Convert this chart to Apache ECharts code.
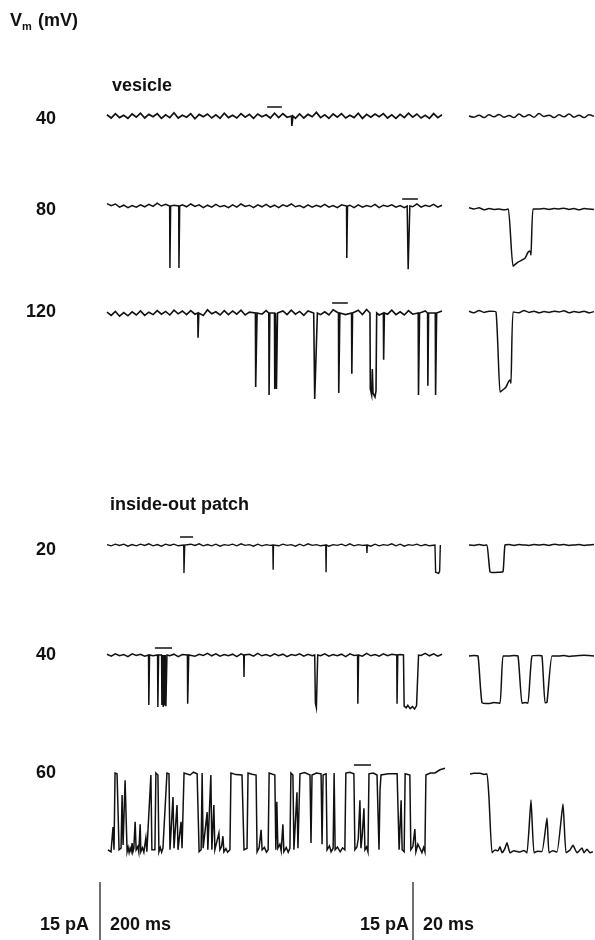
<!DOCTYPE html>
<html><head><meta charset="utf-8">
<script src="https://cdn.jsdelivr.net/npm/echarts/dist/echarts.min.js"></script>
<style>html,body{margin:0;padding:0;background:#fff}#c{width:595px;height:940px}</style>
</head><body><div id="c"></div>
<script>
// ---------- DATA (time in ms, current in pA; downward = inward current) ----------
const rowLabels = ['40', '80', '120', '20', '40', '60'];
const groupTitles = ['vesicle', 'inside-out patch'];
const scaleLabels = ['15 pA', '200 ms', '15 pA', '20 ms'];
const longSpan = 1000;   // ms covered by each long trace
const shortSpan = 100;   // ms covered by each expanded trace
const scaleBarPA = 15;

// baseline noise of the long traces (sampled evenly across the trace)
const noiseV40 = [0.3,-0.5,0.6,-0.4,0.2,-0.6,0.5,-0.3,0.7,-0.5,0.4,-0.2,0.6,-0.6,0.3,-0.4,0.8,-0.5,0.2,-0.3,0.6,-0.7,0.4,-0.2,0.5,-0.5,0.3,-0.6,0.7,-0.4,0.2,-0.5,0.6,-0.3,0.4,-0.6,0.5,-0.2,0.3,-0.5,0.7,-0.4,0.6,-0.3,0.2,-0.6,0.5,-0.5,0.4,-0.2,0.9,-0.4,0.3,-0.6,0.5,-0.3,0.6,-0.5,0.2,-0.4,0.7,-0.6,0.4,-0.3,0.5,-0.2,0.6,-0.5,0.3,-0.6,0.4,-0.4,0.7,-0.3,0.5,-0.5,0.2,-0.6,0.6,-0.4,0.3];
const noiseV80 = [0.6,0.1,0.5,-0.3,0.2,-0.4,0.1,-0.3,0.3,-0.2,0.4,-0.1,0.7,0.0,0.4,-0.3,0.2,-0.4,0.3,-0.2,0.5,-0.1,0.3,-0.4,0.2,-0.3,0.4,-0.2,0.1,-0.4,0.3,-0.3,0.5,-0.1,0.2,-0.4,0.3,-0.2,0.4,-0.3,0.2,-0.4,0.3,-0.1,0.5,-0.2,0.1,-0.4,0.3,-0.3,0.2,-0.2,0.4,-0.3,0.1,-0.4,0.3,-0.1,0.2,-0.4,0.3,-0.3,0.1,-0.2,0.4,-0.4,0.2,-0.1,0.3,-0.3,0.1,-0.4,0.2,-0.2,0.5,-0.3,0.2,-0.1,0.4,-0.3,0.2];
const noiseV120 = [0.2,-0.6,0.4,-0.8,0.1,-0.7,0.3,-0.5,0.5,-0.6,0.2,-0.4,0.6,-0.3,0.4,-0.5,0.7,-0.2,0.5,-0.4,0.6,-0.3,0.4,-0.6,0.8,-0.2,0.3,-0.5,0.6,-0.4,0.5,-0.3,0.7,-0.5,0.2,-0.6,0.4,-0.3,0.6,-0.2,0.3,-0.5,0.5,-0.4,0.7,-0.3,0.4,-0.6,0.5,-0.2,0.6,-0.4,0.3,-0.5,0.8,-0.3,0.5,-0.4,0.6,-0.2,0.7,-0.4,0.9,-0.2,0.6,-0.5,0.4,-0.3,0.7,-0.4,0.3,-0.5,0.6,-0.3,0.4,-0.6,0.5,-0.2,0.6,-0.4,0.5];
const noiseP20 = [0.1,-0.2,0.2,-0.1,0.2,-0.3,0.1,-0.2,0.2,-0.1,0.3,-0.2,0.1,-0.3,0.2,-0.1,0.2,-0.2,0.1,-0.3,0.2,-0.1,0.3,-0.2,0.1,-0.2,0.2,-0.3,0.1,-0.1,0.2,-0.2,0.3,-0.1,0.1,-0.3,0.2,-0.2,0.1,-0.1,0.3,-0.2,0.2,-0.1,0.1,-0.3,0.2,-0.2,0.3,-0.1,0.1,-0.2,0.2,-0.3,0.1,-0.1,0.2,-0.2,0.3,-0.2,0.1,-0.1,0.2,-0.3,0.2,-0.2,0.1,-0.1,0.3,-0.2,0.2,-0.3,0.1,-0.1,0.2,-0.2,0.1,-0.2,0.3,-0.1,0.2];
const noiseP40 = [0.2,-0.3,0.3,-0.2,0.1,-0.4,0.3,-0.1,0.2,-0.3,0.4,-0.2,0.1,-0.3,0.3,-0.2,0.2,-0.4,0.1,-0.2,0.3,-0.3,0.2,-0.1,0.4,-0.2,0.3,-0.3,0.1,-0.2,0.2,-0.4,0.3,-0.1,0.2,-0.3,0.4,-0.2,0.1,-0.3,0.3,-0.2,0.2,-0.4,0.1,-0.1,0.3,-0.3,0.2,-0.2,0.5,-0.2,0.3,-0.3,0.1,-0.2,0.2,-0.4,0.3,-0.1,0.2,-0.3,0.4,-0.2,0.1,-0.3,0.3,-0.2,0.2,-0.4,0.1,-0.2,0.3,-0.3,0.2,-0.1,0.4,-0.2,0.3,-0.3,0.2];

// openings in the long traces: [start ms, end ms, amplitude pA] or explicit vertex lists
const eventsV40 = [[551, 555, -2.5]];
const eventsV80 = [[187, 190, -15.5], [214, 217, -15.5], [715, 718, -13], [[896, 0], [899, -15.8], [904, 0]]];
const eventsV120 = [[271, 274, -6.2], [443, 448, -18.5], [483, 486, -20.5], [500, 503, -19], [505, 509, -19],
  [[617, 0], [620, -21.5], [624, -21.7], [628, 0]], [691, 695, -20], [730, 733, -15.2],
  [[785, 0], [786, -19], [790, -20.5], [792, -14], [794, -20], [800, -21], [803, -19.5], [805, 0]],
  [825, 828, -11.7], [929, 933, -20.5], [957, 960, -18.2], [980, 984, -20.5]];
const eventsP20 = [[229, 232, -7], [495, 497, -6.2], [653, 655, -6.8], [775, 777, -2],
  [[979, 0], [981, -6.8], [990, -7.1], [993, -6.5], [995, 0]]];
const eventsP40 = [[124, 127, -12.5], [151, 154, -13], [163, 166, -12.5], [167, 170, -13], [171, 174, -12.6], [175, 179, -12.8],
  [240, 244, -12.2], [408, 410, -5.5], [[620, 0], [622, -12], [625, -13.2], [629, 0]], [748, 751, -12.2], [865, 868, -12.2],
  [[885, 0], [887, -12.8], [893, -13.2], [898, -12.6], [905, -13.4], [912, -12.9], [918, -13.5], [924, -12.7], [928, -13], [930, 0]]];
// 60 mV patch: mostly open, read as a sequence of [ms, pA] vertices
const traceP60 = [[3,-19.2],[12,-19.7],[18,-13.5],[21,-19.2],[24,0],[30,-0.2],[36,-19.2],[42,-18.8],[45,-5.5],[48,-18],[54,-1.8],[60,-19.7],[63,-18.6],[66,-19.9],[69,-18.8],[72,-19.6],[75,-17.5],[77,-19.8],[80,-18.9],[84,-12.2],[87,-19.2],[92,-18.4],[95,-19.8],[99,-12.8],[101,-19.7],[106,-18.7],[110,-19.8],[116,-16.2],[119,-19.7],[131,-0.5],[134,-19.2],[143,-19.2],[146,0],[152,-0.5],[155,-19.7],[159,-18.6],[163,-19.8],[167,-18.8],[179,0],[185,-0.2],[188,-19.2],[197,-6],[200,-18.8],[209,-8],[212,-19.2],[221,-12.2],[224,-18.8],[230,0],[248,-0.5],[258,0.2],[269,-0.2],[275,-19.7],[281,-19.2],[284,0],[287,-18.8],[299,-9.8],[301,-19.2],[310,-0.5],[313,-19.2],[319,-8],[322,-19.2],[334,-15],[337,-19.2],[342,-18.4],[346,-15.8],[349,-19.7],[355,-18.9],[360,-19.8],[367,-19.2],[370,0],[385,-0.4],[403,-0.5],[409,-19.2],[418,-18.8],[421,0],[433,-0.3],[445,-0.5],[448,-19.7],[454,-18.7],[460,-14.2],[463,-19.2],[470,-18.6],[476,-19.8],[481,-19.2],[484,0],[501,-0.5],[504,-19.2],[507,-7.2],[510,-18.8],[516,-17.8],[520,-19.5],[525,-12.8],[528,-19.7],[535,-18.6],[541,-19.8],[546,-18.8],[549,0],[555,-0.5],[558,-19.2],[567,-4.8],[570,-18.8],[576,-0.2],[590,0.1],[606,-0.5],[609,-17.5],[612,-0.5],[625,0],[639,-0.2],[642,-17.8],[645,-0.5],[654,-0.2],[657,-19.2],[664,-18.2],[669,-19.7],[675,-18.8],[678,0],[681,-19.2],[688,-18.5],[696,-19.7],[703,-18.7],[710,-19.2],[713,0],[725,0.2],[737,-0.2],[740,-19.2],[746,-18.5],[750,-16.5],[755,-6.8],[758,-18.8],[762,-15.5],[767,-8.8],[770,-19.2],[775,-18.5],[779,-19.7],[782,-0.2],[795,0],[806,-0.5],[812,-19.2],[815,-4.2],[818,-0.5],[840,-0.2],[866,-0.2],[872,-19.2],[878,-6.8],[881,-19.2],[887,-19.7],[890,-0.2],[904,-0.5],[907,-19.2],[913,-18.4],[919,-14],[922,-19.7],[928,-17.8],[934,-18.8],[940,-19.9],[945,-18.6],[949,-19.7],[952,-0.5],[965,0],[979,0],[994,0.8],[1009,1.2]];

// bars over the segment shown expanded: [start ms, end ms, level pA]
const barV40 = [478, 522, 2.25];
const barV80 = [881, 928, 1.75];
const barV120 = [672, 719, 2.5];
const barP20 = [218, 257, 2];
const barP40 = [143, 194, 1.75];
const barP60 = [737, 788, 2];

// expanded traces: baseline noise and openings
const sNoiseV40 = [0.0,-0.3,0.2,-0.4,0.3,-0.2,0.4,-0.3,0.1,-0.4,0.5,-0.2,0.3,-0.3,0.6,-0.1,0.2,-0.4,0.3,-0.2,0.5,-0.3,0.2,-0.4,0.3,-0.1];
const sNoiseV80 = [0.3,0.0,0.3,-0.2,0.1,-0.1,0.0,-0.2,0.1,0.0,0.0,-0.1,0.1,-0.1,0.0,0.1,-0.1,0.1,0.0,0.2,-0.1,0.1,-0.2,0.1,0.0,-0.1];
const sNoiseV120 = [0.2,-0.2,0.4,-0.1,0.2,-0.3,0.1,0.0,-0.1,0.3,-0.2,0.4,-0.1,0.2,-0.2,0.1,-0.1,0.2,0.0,0.3,-0.2,0.1,-0.1,0.2,-0.2,0.1];
const sNoiseP20 = [0.0,-0.1,0.1,-0.1,0.0,0.1,-0.1,0.0,0.1,-0.1,0.1,0.0,-0.1,0.1,0.0,0.1,-0.1,0.2,0.0,0.1,-0.1,0.0,0.1,-0.1,0.0,0.1];
const sNoiseP40 = [0.0,0.1,0.0,-0.1,0.1,0.0,0.1,-0.1,0.0,0.1,0.0,-0.1,0.1,0.0,0.1,-0.1,0.0,0.1,0.0,0.1,-0.1,0.0,0.1,0.2,0.1,0.0];
const sEventsV40 = [];
const sEventsV80 = [[[31.5,0],[35.2,-14.3],[39.2,-13.3],[44.8,-12.3],[47.2,-10.8],[48.8,-10.5],[49.6,-11.5],[51.2,0]]];
const sEventsV120 = [[[21.6,0],[24.8,-20],[27,-19.5],[29.5,-18.8],[31.5,-17.5],[32.8,-17],[33.6,-17.8],[35.2,0]]];
const sEventsP20 = [[[14.4,0],[16.8,-6.7],[20,-6.9],[24,-6.8],[27.2,-6.7],[28.8,0]]];
const sEventsP40 = [[[7.2,0],[10.4,-11.7],[16,-11.9],[20,-11.6],[24.8,-11.8],[27.2,0]],
  [[39.2,0],[42.4,-11.8],[45,-11.6],[47.2,-11.8],[50.4,0]],
  [[58.4,0],[60.8,-11.7],[62.4,-11.6],[66.4,0]]];
const sTraceP60 = [[0.8,0],[4,0.2],[8.8,0.2],[12,-0.1],[14.4,0],[16,-6],[18.4,-19.7],[20.8,-19],[23.2,-19.2],[24.8,-18.2],[26.4,-19.7],[28.5,-18.8],[30.4,-17.2],[32.8,-19.7],[36,-19.2],[40.8,-19.5],[44,-19.1],[46.4,-19.7],[49.6,-6.5],[52,-19.7],[55,-19.3],[58.4,-19.4],[62.4,-11],[64,-19.7],[67,-19.2],[70.4,-19.5],[75.2,-7.5],[77.6,-19.7],[80.8,-19],[83.2,-17.8],[86.4,-19.7],[90.4,-18.5],[92,-19.7],[94.4,-18.8],[96.8,-19.7],[99.2,-19.4]];

// ---------- BUILD ----------
function expand(ev) {
  if (Array.isArray(ev[0])) return ev;
  const [a, b, amp] = ev;
  if (b - a <= 2) return [[a, 0], [(a + b) / 2, amp], [b, 0]];
  return [[a, 0], [a + 0.8, amp], [b - 0.8, amp], [b, 0]];
}
function build(noise, span, events) {
  const step = span / (noise.length - 1);
  const ex = events.map(expand);
  const pts = [];
  noise.forEach((v, i) => {
    const t = i * step;
    if (!ex.some(e => t > e[0][0] - step * 0.5 && t < e[e.length - 1][0] + step * 0.5)) pts.push([t, v]);
  });
  ex.forEach(e => e.forEach(p => pts.push(p)));
  pts.sort((a, b) => a[0] - b[0]);
  return pts;
}

const longData = [
  build(noiseV40, longSpan, eventsV40), build(noiseV80, longSpan, eventsV80), build(noiseV120, longSpan, eventsV120),
  build(noiseP20, longSpan, eventsP20), build(noiseP40, longSpan, eventsP40), traceP60];
const shortData = [
  build(sNoiseV40, shortSpan, sEventsV40), build(sNoiseV80, shortSpan, sEventsV80), build(sNoiseV120, shortSpan, sEventsV120),
  build(sNoiseP20, shortSpan, sEventsP20), build(sNoiseP40, shortSpan, sEventsP40), sTraceP60];
const bars = [barV40, barV80, barV120, barP20, barP40, barP60];

// layout (pixels)
const PX_PER_PA = 4, Y_MIN = -24, Y_MAX = 3;
const longBase = [116, 206, 313, 545, 655, 773];
const shortBase = [116, 209, 312, 545, 656, 774];
const labelY = [119, 210, 312, 550, 655, 773];
const LONG_LEFT = 107, PX_PER_MS_LONG = 0.335;
const SHORT_LEFT = 469, PX_PER_MS_SHORT = 1.25;

const grid = [], xAxis = [], yAxis = [], series = [];
const longWidths = [1.7, 1.5, 1.6, 1.4, 1.5, 1.5];
function addGrid(left, top, width, height, xmin, xmax, ymin, ymax) {
  grid.push({ left, top, width, height });
  const i = grid.length - 1;
  xAxis.push({ gridIndex: i, type: 'value', min: xmin, max: xmax, show: false });
  yAxis.push({ gridIndex: i, type: 'value', min: ymin, max: ymax, show: false });
  return i;
}
for (let r = 0; r < 6; r++) {
  const lmax = r === 5 ? 1009 : longSpan;
  const gl = addGrid(LONG_LEFT, longBase[r] - Y_MAX * PX_PER_PA, lmax * PX_PER_MS_LONG, (Y_MAX - Y_MIN) * PX_PER_PA, 0, lmax, Y_MIN, Y_MAX);
  series.push({ type: 'line', xAxisIndex: gl, yAxisIndex: gl, data: longData[r], symbol: 'none', lineStyle: { color: '#111', width: longWidths[r], join: 'miter' }, clip: false, animation: false });
  const b = bars[r];
  series.push({ type: 'line', xAxisIndex: gl, yAxisIndex: gl, data: [[b[0], b[2]], [b[1], b[2]]], symbol: 'none', lineStyle: { color: '#111', width: 1.5 }, animation: false });
  const gs = addGrid(SHORT_LEFT, shortBase[r] - Y_MAX * PX_PER_PA, shortSpan * PX_PER_MS_SHORT, (Y_MAX - Y_MIN) * PX_PER_PA, 0, shortSpan, Y_MIN, Y_MAX);
  series.push({ type: 'line', xAxisIndex: gs, yAxisIndex: gs, data: shortData[r], symbol: 'none', smooth: r === 0 ? 0.4 : 0.15, lineStyle: { color: '#111', width: 1.5 }, clip: false, animation: false });
}
// scale bars (15 pA)
[100, 413].forEach(x => {
  const g = addGrid(x, 882, 10, scaleBarPA * PX_PER_PA, 0, 1, 0, scaleBarPA);
  series.push({ type: 'line', xAxisIndex: g, yAxisIndex: g, data: [[0, 0], [0, scaleBarPA]], symbol: 'none', lineStyle: { color: '#111', width: 1.2 }, clip: false, animation: false });
});

const FONT = 'Liberation Sans, Arial, sans-serif';
const txt = (text, x, y, size, align) => ({ type: 'text', x, y, style: { text, font: 'bold ' + size + 'px ' + FONT, fill: '#111', textAlign: align || 'left', textVerticalAlign: 'middle' } });
const graphic = [
  txt('V', 10, 21, 18), { type: 'text', x: 22, y: 27, style: { text: 'm', font: 'bold 11px ' + FONT, fill: '#111', textVerticalAlign: 'middle' } },
  txt('(mV)', 38, 21, 18),
  txt(groupTitles[0], 112, 86, 18), txt(groupTitles[1], 110, 505, 18),
  txt(scaleLabels[0], 40, 925, 18), txt(scaleLabels[1], 110, 925, 18),
  txt(scaleLabels[2], 360, 925, 18), txt(scaleLabels[3], 423, 925, 18)
];
rowLabels.forEach((l, i) => graphic.push(txt(l, 56, labelY[i], 18, 'right')));

const chart = echarts.init(document.getElementById('c'), null, { renderer: 'canvas' });
chart.setOption({ animation: false, backgroundColor: '#fff', grid, xAxis, yAxis, series, graphic });
</script></body></html>
